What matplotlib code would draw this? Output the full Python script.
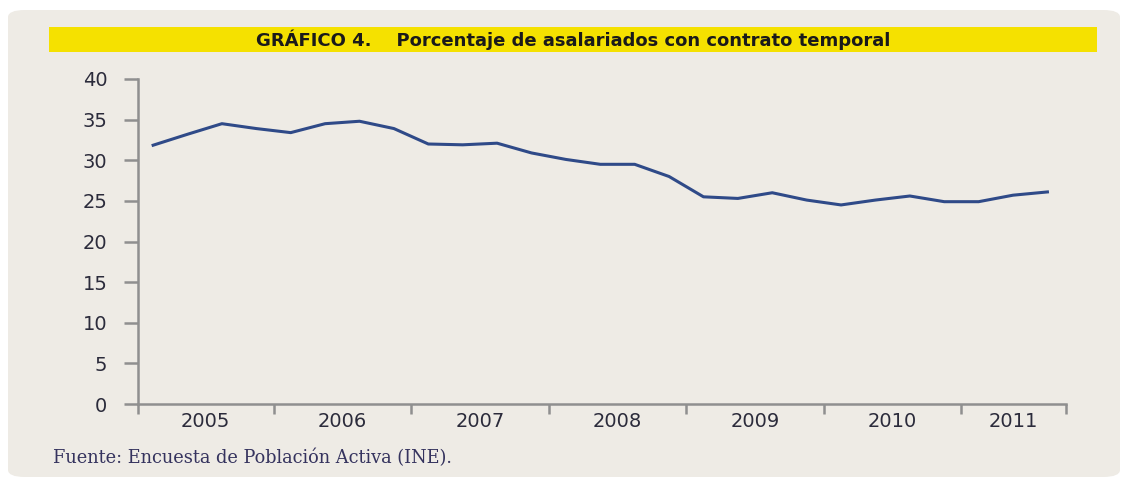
import matplotlib
matplotlib.use("Agg")
import matplotlib.pyplot as plt
from matplotlib.patches import FancyBboxPatch, Rectangle

# Data: quarterly share of temporary contracts, 2005Q1 - 2011Q3
years = ["2005", "2006", "2007", "2008", "2009", "2010", "2011"]
values = [31.85, 33.2, 34.5, 33.9,
          33.4, 34.5, 34.8, 33.9,
          32.0, 31.9, 32.1, 30.9,
          30.1, 29.5, 29.5, 28.0,
          25.5, 25.3, 26.0, 25.1,
          24.5, 25.1, 25.6, 24.9,
          24.9, 25.7, 26.1]
yticks = [0, 5, 10, 15, 20, 25, 30, 35, 40]
title = "GRÁFICO 4.    Porcentaje de asalariados con contrato temporal"
source = "Fuente: Encuesta de Población Activa (INE)."

W, H = 1125, 479
fig = plt.figure(figsize=(W / 100, H / 100), dpi=100)
fig.patch.set_facecolor("white")

bg = "#EEEBE5"
panel = FancyBboxPatch((8 / W, 2 / H), 1112 / W, 467 / H,
                       boxstyle="round,pad=0,rounding_size=0.015",
                       transform=fig.transFigure, facecolor=bg,
                       edgecolor="none", zorder=0)
fig.patches.append(panel)
bar = Rectangle((49 / W, (H - 52) / H), (1097 - 49) / W, 25 / H,
                transform=fig.transFigure, facecolor="#F5E100",
                edgecolor="none", zorder=1)
fig.patches.append(bar)
fig.text(573 / W, (H - 40) / H, title, ha="center", va="center",
         fontsize=13, fontweight="bold", color="#1a1a1a",
         family=["DejaVu Sans"], zorder=2)
fig.text(53 / W, (H - 458) / H, source, ha="left", va="center",
         fontsize=12.8, color="#35335e", family=["DejaVu Serif"], zorder=2)

ax = fig.add_axes([138 / W, (H - 404) / H, (1066 - 138) / W, (404 - 79) / H])
ax.set_zorder(5)
ax.set_facecolor("none")
x = list(range(len(values)))
ax.plot(x, values, color="#2f4a88", lw=2.2, solid_joinstyle="round")

x0, x1 = -0.44, 26.54
ax.set_xlim(x0, x1)
ax.set_ylim(0, 40)

for s in ["top", "right"]:
    ax.spines[s].set_visible(False)
axis_col = "#8f8f8f"
for s in ["left", "bottom"]:
    ax.spines[s].set_color(axis_col)
    ax.spines[s].set_linewidth(1.8)

ax.set_yticks(yticks)
ax.tick_params(axis="y", direction="out", length=10, width=1.8,
               color=axis_col, pad=12, labelsize=14, labelcolor="#2b2b3b")

bounds = [x0] + [3.5 + 4 * k for k in range(6)] + [x1]
ax.set_xticks(bounds)
ax.set_xticklabels([""] * len(bounds))
ax.tick_params(axis="x", which="major", direction="out", length=7,
               width=1.8, color=axis_col)
mids = [(bounds[i] + bounds[i + 1]) / 2 for i in range(len(years))]
ax.set_xticks(mids, minor=True)
ax.set_xticklabels(years, minor=True)
ax.tick_params(axis="x", which="minor", length=0, pad=6,
               labelsize=14, labelcolor="#2b2b3b")

fig.savefig("out.png", dpi=100, facecolor="white")
